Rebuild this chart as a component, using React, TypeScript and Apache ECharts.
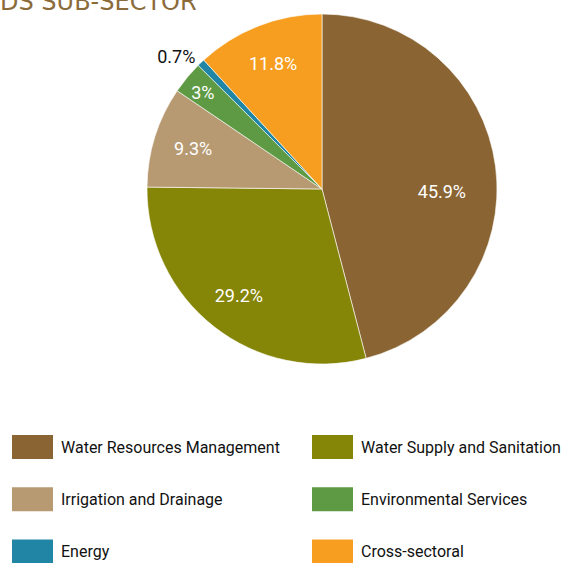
import React, { useEffect, useRef } from "react";
import * as echarts from "echarts";

const categories = [
  "Water Resources Management",
  "Water Supply and Sanitation",
  "Irrigation and Drainage",
  "Environmental Services",
  "Energy",
  "Cross-sectoral",
];
const shares = [45.9, 29.2, 9.3, 3, 0.7, 11.8];
const colors = ["#8A6533", "#858507", "#B79A72", "#5E9A43", "#2186A5", "#F79E20"];
const legendLeft = ["Water Resources Management", "Irrigation and Drainage", "Energy"];
const legendRight = ["Water Supply and Sanitation", "Environmental Services", "Cross-sectoral"];
const titleText = "DS SUB-SECTOR";

const FONT = 'Roboto, "Liberation Sans", sans-serif';

export default function App() {
  const ref = useRef<HTMLDivElement>(null);
  useEffect(() => {
    if (!ref.current) return;
    const chart = echarts.init(ref.current, null, { renderer: "svg" });
    const mainData = categories.map((name, i) => ({
      name,
      value: shares[i],
      itemStyle: { color: colors[i] },
    }));
    const labelData = categories.map((name, i) => {
      const item: any = { name, value: shares[i] };
      if (name === "Energy") {
        item.label = {
          position: "outside",
          color: "#111",
          distanceToLabelLine: 0,
        };
        item.labelLine = { show: false, length: 8, length2: 0 };
      }
      if (name === "Water Resources Management") {
        item.label = { offset: [-14, 20] };
      }
      if (name === "Environmental Services") {
        item.label = { offset: [-15, -11] };
      }
      return item;
    });
    const legendCommon = {
      orient: "vertical",
      icon: "rect",
      itemWidth: 43,
      itemHeight: 26,
      itemGap: 24.3,
      padding: 0,
      height: 200,
      selectedMode: false,
      textStyle: {
        fontFamily: FONT,
        fontSize: 16,
        lineHeight: 26,
        color: "#111",
        padding: [0, 0, 0, 2],
      },
    };
    chart.setOption({
      animation: false,
      graphic: [
        {
          type: "text",
          left: 0,
          top: -10,
          style: {
            text: titleText,
            fontFamily: '"DejaVu Sans", sans-serif',
            fontSize: 24,
            fill: "#8B6B3A",
          },
        },
      ],
      legend: [
        { ...legendCommon, left: 10, top: 433, data: legendLeft },
        { ...legendCommon, left: 310, top: 433, data: legendRight },
      ],
      series: [
        {
          type: "pie",
          name: "main",
          center: [322, 189],
          radius: [0, 175],
          startAngle: 90,
          clockwise: true,
          silent: true,
          label: { show: false },
          labelLine: { show: false },
          itemStyle: { borderColor: "#ffffff", borderWidth: 0.6 },
          data: mainData,
        },
        {
          type: "pie",
          name: "labels",
          center: [322, 189],
          radius: [89, 175],
          startAngle: 90,
          clockwise: true,
          silent: true,
          avoidLabelOverlap: false,
          itemStyle: { color: "transparent", borderWidth: 0 },
          label: {
            show: true,
            position: "inside",
            rotate: 0,
            formatter: "{c}%",
            color: "#ffffff",
            fontFamily: FONT,
            fontSize: 18,
          },
          labelLine: { show: false },
          data: labelData,
        },
      ],
    });
    return () => chart.dispose();
  }, []);
  return (
    <div
      ref={ref}
      style={{ position: "fixed", left: 0, top: 0, width: 569, height: 563, background: "#fff" }}
    />
  );
}
